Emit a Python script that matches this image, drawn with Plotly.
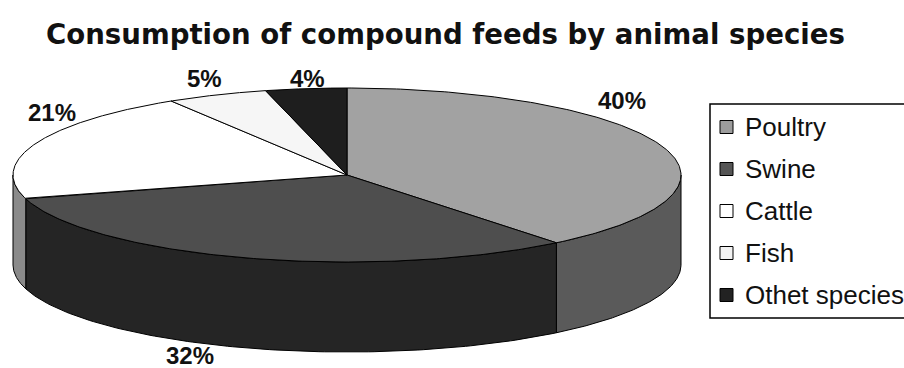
import numpy as np
import plotly.graph_objects as go

# Share of compound feed consumption by animal species (percent labels)
categories = ["Poultry", "Swine", "Cattle", "Fish", "Othet species"]
shares = [40, 32, 21, 5, 4]

# Greyscale palette: top faces, side walls, legend swatches
top_colors = ["#a2a2a2", "#4e4e4e", "#ffffff", "#f6f6f6", "#1e1e1e"]
side_colors = ["#5a5a5a", "#252525", "#8a8a8a", "#bdbdbd", "#111111"]
swatch_colors = ["#9c9c9c", "#555555", "#ffffff", "#f2f2f2", "#222222"]

# Pixel-space layout of the tilted pie
W, H = 904, 368
CX, CY, RX, RY, DEPTH = 347, 175, 334, 87, 90
label_pos = [(622, 100), (190, 355), (52, 112), (204, 78), (307, 78)]

FONT = "Liberation Sans, Arial, sans-serif"


def rim(t_deg, drop=0.0):
    """Point on the top ellipse rim, angle clockwise from 12 o'clock."""
    t = np.radians(t_deg)
    return CX + RX * np.sin(t), CY - RY * np.cos(t) + drop


fig = go.Figure()

vals = np.array(shares, dtype=float)
edges = np.concatenate([[0.0], np.cumsum(vals / vals.sum() * 360.0)])

# Side walls: only the front half of the rim (90..270 deg) is visible
for i in range(len(categories)):
    lo, hi = max(edges[i], 90.0), min(edges[i + 1], 270.0)
    if hi <= lo:
        continue
    ts = np.linspace(lo, hi, 120)
    xt, yt = rim(ts)
    xb, yb = rim(ts[::-1], DEPTH)
    fig.add_trace(go.Scatter(
        x=np.concatenate([xt, xb, xt[:1]]),
        y=np.concatenate([yt, yb, yt[:1]]),
        mode="lines", fill="toself", fillcolor=side_colors[i],
        line=dict(color="black", width=1),
        hoverinfo="skip", showlegend=False))

# Top faces
for i, cat in enumerate(categories):
    ts = np.linspace(edges[i], edges[i + 1], 200)
    xa, ya = rim(ts)
    fig.add_trace(go.Scatter(
        x=np.concatenate([[CX], xa, [CX]]),
        y=np.concatenate([[CY], ya, [CY]]),
        mode="lines", fill="toself", fillcolor=top_colors[i],
        line=dict(color="black", width=1),
        name=cat, hovertemplate=f"{cat}: {shares[i]}%<extra></extra>",
        showlegend=False))

annotations = []
shapes = []

# Percent labels
for (lx, ly), v in zip(label_pos, shares):
    annotations.append(dict(
        x=lx, y=ly, xref="x", yref="y", text=f"{v}%", showarrow=False,
        xanchor="center", yanchor="middle",
        font=dict(family=FONT, size=24, color="#111111", weight="bold")))

# Legend box (runs past the right edge)
LEG_X0, LEG_Y0, LEG_Y1 = 710, 104, 318
shapes.append(dict(type="rect", xref="x", yref="y",
                   x0=LEG_X0, x1=W + 20, y0=LEG_Y0, y1=LEG_Y1,
                   line=dict(color="black", width=1.5), fillcolor="white",
                   layer="below"))
for i, cat in enumerate(categories):
    yc = 127 + 42 * i
    shapes.append(dict(type="rect", xref="x", yref="y",
                       x0=720, x1=733, y0=yc - 6.5, y1=yc + 6.5,
                       line=dict(color="black", width=1),
                       fillcolor=swatch_colors[i]))
    annotations.append(dict(
        x=743, y=yc, xref="x", yref="y", text=cat, showarrow=False,
        xanchor="left", yanchor="middle",
        font=dict(family=FONT, size=26, color="#111111")))

# Title
annotations.append(dict(
    x=445, y=34, xref="x", yref="y",
    text="Consumption of compound feeds by animal species",
    showarrow=False, xanchor="center", yanchor="middle",
    font=dict(family="DejaVu Sans, sans-serif", size=27.6, color="#111111",
              weight="bold")))

fig.update_layout(
    width=W, height=H,
    margin=dict(l=0, r=0, t=0, b=0),
    paper_bgcolor="white", plot_bgcolor="white",
    xaxis=dict(range=[0, W], visible=False, fixedrange=True),
    yaxis=dict(range=[H, 0], visible=False, fixedrange=True),
    shapes=shapes, annotations=annotations,
    showlegend=False,
)

fig.write_html("out.html")
